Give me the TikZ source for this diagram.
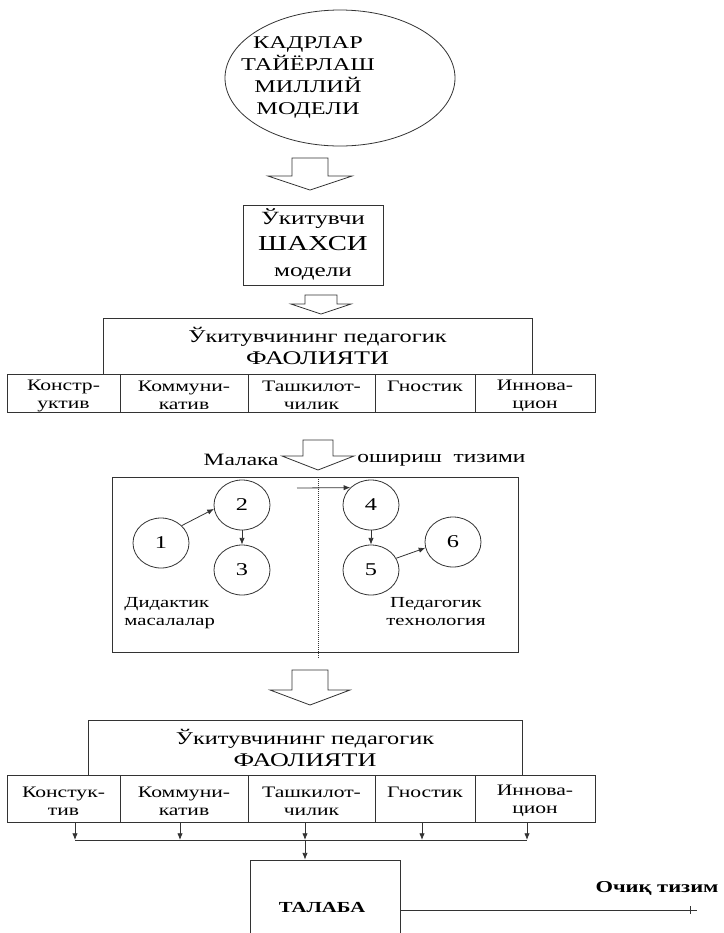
\documentclass[tikz,border=0pt]{standalone}
\usepackage{fontspec}
\setmainfont{Liberation Serif}[FakeStretch=1.35]
\usetikzlibrary{shapes.geometric,fit,arrows.meta}
\definecolor{ink}{gray}{0.2}
\newcommand\blockarrow[6]{%
  \draw[ink] (#1-#2,#4) -- (#1+#2,#4) -- (#1+#2,#5) -- (#1+#3,#5) -- (#1,#6)
    -- (#1-#3,#5) -- (#1-#2,#5) -- cycle;}
\begin{document}
\begin{tikzpicture}[x=0.75pt,y=-0.75pt,line width=0.6pt,
  box/.style={draw=ink,inner sep=0pt},
  lbl/.style={inner sep=0pt,align=center},
  celltxt/.style={inner sep=0pt,align=center,yshift=-2pt,font=\fontsize{12}{13.5}\selectfont},
  circ/.style={draw=ink,ellipse,inner sep=0pt,minimum width=42pt,minimum height=37.5pt,
    font=\fontsize{13.5}{15}\selectfont},
  arr/.style={draw=ink,-{Latex[length=5pt,width=4pt]}}]
\fill[white] (0,0) rectangle (724,933);
\useasboundingbox (0,0) rectangle (724,933);
\clip (0,0) rectangle (724,933);

% top ellipse
\node[draw=ink,ellipse,minimum width=172.5pt,minimum height=102pt,inner sep=0pt] (model) at (340,78) {};
\node[lbl,font=\fontsize{13.5}{16.5}\selectfont] (modeltxt) at (308,77) {КАДРЛАР\\ТАЙЁРЛАШ\\МИЛЛИЙ\\МОДЕЛИ};

\blockarrow{310}{18}{42}{158}{176}{190}

% teacher personality box
\node[box,fit={(243,205) (383,285)}] (shaxs) {};
\node[lbl,font=\fontsize{14}{19.5}\selectfont] (shaxstxt) at (313,244)
  {Ўкитувчи\\{\fontsize{16}{19.5}\selectfont ШАХСИ}\\модели};

\blockarrow{321}{16}{30}{295}{304}{314}

% activity box 1
\node[box,fit={(103,318) (532,374)}] (act1) {};
\node[lbl,font=\fontsize{13.5}{16.5}\selectfont] (act1txt) at (act1.center)
  {Ўкитувчининг педагогик\\{\fontsize{14.5}{16.5}\selectfont ФАОЛИЯТИ}};
\node[box,fit={(7,374) (120,412)}] (ra1) {};
\node[box,fit={(120,374) (248,412)}] (ra2) {};
\node[box,fit={(248,374) (375,412)}] (ra3) {};
\node[box,fit={(375,374) (475,412)}] (ra4) {};
\node[box,fit={(475,374) (595,412)}] (ra5) {};
\node[celltxt] (ra1t) at (ra1.center) {Констр-\\уктив};
\node[celltxt] (ra2t) at (ra2.center) {Коммуни-\\катив};
\node[celltxt] (ra3t) at (ra3.center) {Ташкилот-\\чилик};
\node[celltxt] (ra4t) at (ra4.center) {Гностик\\\phantom{x}};
\node[celltxt] (ra5t) at (ra5.center) {Иннова-\\цион};

% Malaka arrow
\blockarrow{318}{15}{36}{440}{456}{470}
\node[lbl,anchor=east,font=\fontsize{13}{15}\selectfont] (malaka) at (279,460) {Малака};
\node[lbl,anchor=west,font=\fontsize{13}{15}\selectfont] (oshirish) at (357,460) {ошириш\ \ тизими};

% circles box
\node[box,fit={(112,477) (518,652)}] (cbox) {};
\coordinate (dtop) at (318,477);
\coordinate (dbot) at (318,658);
\draw[ink,densely dotted,line width=0.5pt] (dtop) -- (dbot);
\node[circ] (c1) at (161,543) {1};
\node[circ] (c2) at (242,505) {2};
\node[circ] (c3) at (242,570) {3};
\node[circ] (c4) at (371,505) {4};
\node[circ] (c5) at (371,570) {5};
\node[circ] (c6) at (453,542) {6};
\draw[arr] (c1.40) -- (c2.188);
\draw[arr] (c2.south) -- (c3.north);
\draw[arr] (c4.south) -- (c5.north);
\draw[arr] (c5.25) -- (c6.192);
\coordinate (tstart) at (297,488);
\draw[arr] (tstart) -- (c4.140);
\node[lbl,anchor=north west,align=left,font=\fontsize{11.5}{13.5}\selectfont] (didak) at (124,597) {Дидактик\\масалалар};
\node[lbl,anchor=north,font=\fontsize{11.5}{13.5}\selectfont] (pedtex) at (436,597) {Педагогик\\технология};

\blockarrow{310}{18}{40}{670}{690}{705}

% activity box 2
\node[box,fit={(88,720) (522,775)}] (act2) {};
\node[lbl,font=\fontsize{13.5}{16.5}\selectfont] (act2txt) at (act2.center)
  {Ўкитувчининг педагогик\\{\fontsize{14.5}{16.5}\selectfont ФАОЛИЯТИ}};
\node[box,fit={(7,775) (120,822)}] (rb1) {};
\node[box,fit={(120,775) (248,822)}] (rb2) {};
\node[box,fit={(248,775) (375,822)}] (rb3) {};
\node[box,fit={(375,775) (475,822)}] (rb4) {};
\node[box,fit={(475,775) (595,822)}] (rb5) {};
\node[celltxt] (rb1t) at (rb1.center) {Констук-\\тив};
\node[celltxt] (rb2t) at (rb2.center) {Коммуни-\\катив};
\node[celltxt] (rb3t) at (rb3.center) {Ташкилот-\\чилик};
\node[celltxt] (rb4t) at (rb4.center) {Гностик\\\phantom{x}};
\node[celltxt] (rb5t) at (rb5.center) {Иннова-\\цион};

% bus
\coordinate (b1) at (75,840);
\coordinate (b2) at (180,840);
\coordinate (b3) at (305,840);
\coordinate (b4) at (422,840);
\coordinate (b5) at (527,840);
\draw[ink] (b1) -- (b5);
\draw[arr] (rb1.south -| b1) -- (b1);
\draw[arr] (rb2.south -| b2) -- (b2);
\draw[arr] (rb3.south -| b3) -- (b3);
\draw[arr] (rb4.south -| b4) -- (b4);
\draw[arr] (rb5.south -| b5) -- (b5);

% student box
\node[box,fit={(250,860) (400,960)}] (tal) {};
\node[lbl,font=\bfseries\fontsize{11.5}{13}\selectfont] (taltxt) at (322,908) {ТАЛАБА};
\draw[arr] (b3) -- (tal.north -| b3);
\coordinate (oend) at (697,910);
\draw[ink] (tal.east) -- (oend);
\draw[ink] (690,906) -- (690,914);
\node[lbl,anchor=east,font=\bfseries\fontsize{12.5}{14}\selectfont] (ochiq) at (719,888) {Очиқ тизим};
\end{tikzpicture}
\end{document}
